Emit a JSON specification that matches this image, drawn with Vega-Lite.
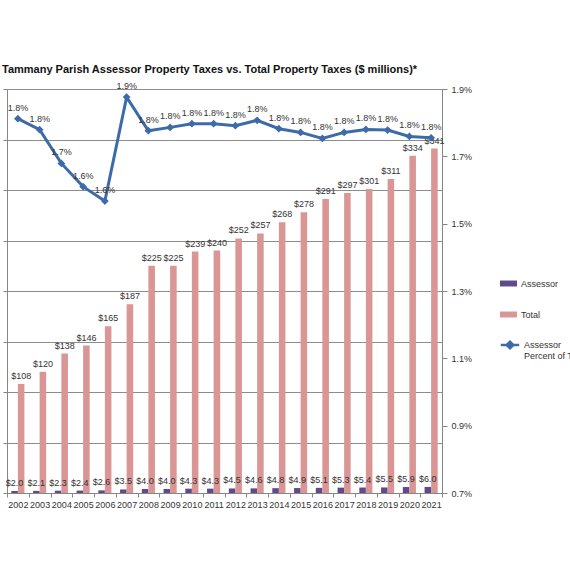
{
  "$schema": "https://vega.github.io/schema/vega-lite/v6.json",
  "autosize": "none",
  "width": 435,
  "height": 404,
  "padding": {"left": 7, "top": 89, "right": 128, "bottom": 77},
  "background": "white",
  "title": {
    "text": "Tammany Parish Assessor Property Taxes vs. Total Property Taxes ($ millions)*",
    "anchor": "start",
    "frame": "group",
    "font": "Liberation Sans",
    "fontSize": 11,
    "fontWeight": "bold",
    "color": "#111111",
    "baseline": "alphabetic",
    "offset": 2,
    "dx": -5,
    "dy": 4
  },
  "datasets": {
    "bars": [
      {"year": "2002", "series": "Assessor", "value": 2.0}, {"year": "2002", "series": "Total", "value": 108},
      {"year": "2003", "series": "Assessor", "value": 2.1}, {"year": "2003", "series": "Total", "value": 120},
      {"year": "2004", "series": "Assessor", "value": 2.3}, {"year": "2004", "series": "Total", "value": 138},
      {"year": "2005", "series": "Assessor", "value": 2.4}, {"year": "2005", "series": "Total", "value": 146},
      {"year": "2006", "series": "Assessor", "value": 2.6}, {"year": "2006", "series": "Total", "value": 165},
      {"year": "2007", "series": "Assessor", "value": 3.5}, {"year": "2007", "series": "Total", "value": 187},
      {"year": "2008", "series": "Assessor", "value": 4.0}, {"year": "2008", "series": "Total", "value": 225},
      {"year": "2009", "series": "Assessor", "value": 4.0}, {"year": "2009", "series": "Total", "value": 225},
      {"year": "2010", "series": "Assessor", "value": 4.3}, {"year": "2010", "series": "Total", "value": 239},
      {"year": "2011", "series": "Assessor", "value": 4.3}, {"year": "2011", "series": "Total", "value": 240},
      {"year": "2012", "series": "Assessor", "value": 4.5}, {"year": "2012", "series": "Total", "value": 252},
      {"year": "2013", "series": "Assessor", "value": 4.6}, {"year": "2013", "series": "Total", "value": 257},
      {"year": "2014", "series": "Assessor", "value": 4.8}, {"year": "2014", "series": "Total", "value": 268},
      {"year": "2015", "series": "Assessor", "value": 4.9}, {"year": "2015", "series": "Total", "value": 278},
      {"year": "2016", "series": "Assessor", "value": 5.1}, {"year": "2016", "series": "Total", "value": 291},
      {"year": "2017", "series": "Assessor", "value": 5.3}, {"year": "2017", "series": "Total", "value": 297},
      {"year": "2018", "series": "Assessor", "value": 5.4}, {"year": "2018", "series": "Total", "value": 301},
      {"year": "2019", "series": "Assessor", "value": 5.5}, {"year": "2019", "series": "Total", "value": 311},
      {"year": "2020", "series": "Assessor", "value": 5.9}, {"year": "2020", "series": "Total", "value": 334},
      {"year": "2021", "series": "Assessor", "value": 6.0}, {"year": "2021", "series": "Total", "value": 341}
    ],
    "pct": [
      {"year": "2002", "pct": 0.01812},
      {"year": "2003", "pct": 0.01779},
      {"year": "2004", "pct": 0.01679},
      {"year": "2005", "pct": 0.01610},
      {"year": "2006", "pct": 0.01567},
      {"year": "2007", "pct": 0.01876},
      {"year": "2008", "pct": 0.01776},
      {"year": "2009", "pct": 0.01786},
      {"year": "2010", "pct": 0.01797},
      {"year": "2011", "pct": 0.01797},
      {"year": "2012", "pct": 0.01791},
      {"year": "2013", "pct": 0.01807},
      {"year": "2014", "pct": 0.01782},
      {"year": "2015", "pct": 0.01771},
      {"year": "2016", "pct": 0.01753},
      {"year": "2017", "pct": 0.01771},
      {"year": "2018", "pct": 0.01780},
      {"year": "2019", "pct": 0.01778},
      {"year": "2020", "pct": 0.01759},
      {"year": "2021", "pct": 0.01755}
    ]
  },
  "config": {
    "font": "Liberation Sans",
    "view": {"stroke": "#868686", "strokeWidth": 1},
    "axis": {
      "labelFont": "Liberation Sans",
      "labelFontSize": 9,
      "labelColor": "#333333",
      "domainColor": "#868686",
      "tickColor": "#868686",
      "gridColor": "#8c8c8c",
      "gridOpacity": 1
    },
    "legend": {
      "labelFont": "Liberation Sans",
      "labelFontSize": 9,
      "labelColor": "#333333",
      "padding": 0
    }
  },
  "encoding": {
    "x": {
      "field": "year",
      "type": "ordinal",
      "scale": {"paddingInner": 0, "paddingOuter": 0},
      "axis": {
        "title": null,
        "labelAngle": 0,
        "tickBand": "extent",
        "tickSize": 4,
        "labelPadding": 3,
        "grid": false
      }
    }
  },
  "layer": [
    {
      "data": {"name": "bars"},
      "layer": [
        {
          "mark": {"type": "bar"},
          "encoding": {
            "xOffset": {
              "field": "series",
              "scale": {"domain": ["Assessor", "Total"], "paddingInner": 0, "paddingOuter": 0.66}
            },
            "y": {
              "field": "value",
              "type": "quantitative",
              "scale": {"domain": [0, 400]},
              "axis": {
                "orient": "left",
                "title": null,
                "values": [0, 50, 100, 150, 200, 250, 300, 350, 400],
                "labels": false,
                "grid": true,
                "tickSize": 4
              }
            },
            "color": {
              "field": "series",
              "type": "nominal",
              "scale": {"domain": ["Assessor", "Total"], "range": ["#5f4b8b", "#d99694"]},
              "legend": {
                "orient": "none",
                "legendX": 493,
                "legendY": 186,
                "title": null,
                "symbolType": "M-1,-0.35H1V0.35H-1Z",
                "symbolSize": 289,
                "symbolStrokeWidth": 0,
                "rowPadding": 17
              }
            }
          }
        },
        {
          "mark": {"type": "text", "baseline": "bottom", "dy": -3, "fontSize": 9, "color": "#333333"},
          "encoding": {
            "xOffset": {"field": "series"},
            "y": {"field": "value", "type": "quantitative"},
            "text": {
              "condition": {"test": "datum.series === 'Total'", "field": "value", "type": "quantitative", "format": "$.0f"},
              "field": "value",
              "type": "quantitative",
              "format": "$.1f"
            }
          }
        }
      ]
    },
    {
      "data": {"name": "pct"},
      "layer": [
        {
          "mark": {"type": "line", "strokeWidth": 3, "point": {"filled": true, "shape": "diamond", "size": 60}},
          "encoding": {
            "y": {
              "field": "pct",
              "type": "quantitative",
              "scale": {"domain": [0.007, 0.019]},
              "axis": {
                "orient": "right",
                "title": null,
                "values": [0.007, 0.009, 0.011, 0.013, 0.015, 0.017, 0.019],
                "format": ".1%",
                "grid": false,
                "tickSize": 5,
                "labelPadding": 4
              }
            },
            "color": {
              "datum": "Assessor Percent of Total",
              "type": "nominal",
              "scale": {"range": ["#3c6ba8"]},
              "legend": {
                "orient": "none",
                "legendX": 493,
                "legendY": 246,
                "title": null,
                "symbolType": "M-1.1,0H1.1M-0.4,0L0,-0.4L0.4,0L0,0.4Z",
                "symbolSize": 280,
                "symbolStrokeWidth": 2.5,
                "symbolFillColor": "#3c6ba8",
                "labelExpr": "['Assessor', 'Percent of Total']"
              }
            }
          }
        },
        {
          "mark": {"type": "text", "baseline": "bottom", "dy": -6, "fontSize": 9, "color": "#333333"},
          "encoding": {
            "y": {"field": "pct", "type": "quantitative"},
            "text": {"field": "pct", "type": "quantitative", "format": ".1%"}
          }
        }
      ]
    }
  ],
  "resolve": {
    "scale": {"y": "independent", "color": "independent"},
    "legend": {"color": "independent"}
  }
}
